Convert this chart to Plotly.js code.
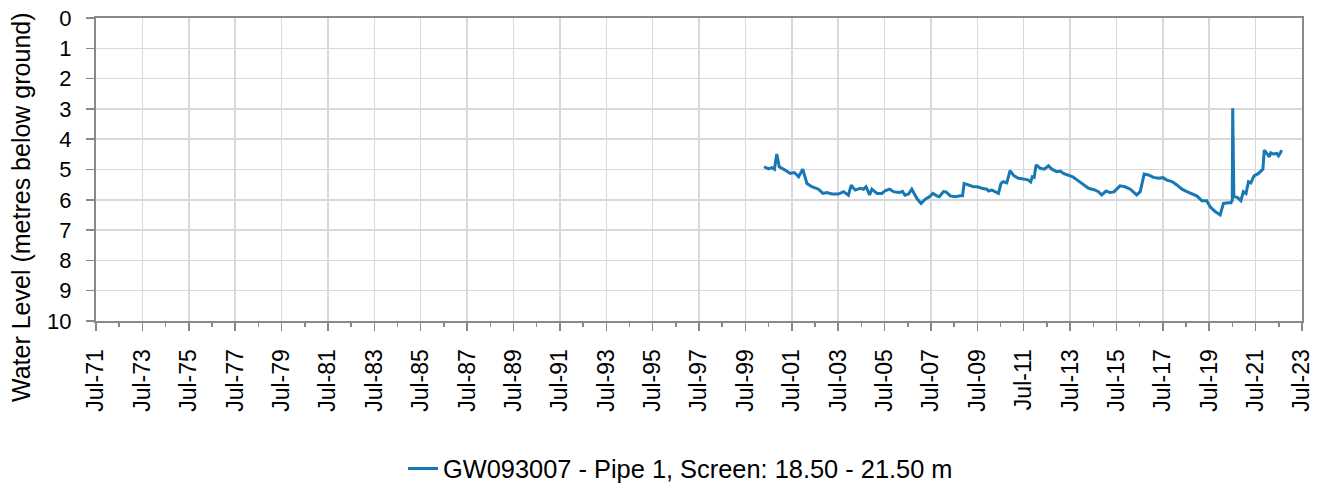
<!DOCTYPE html>
<html>
<head>
<meta charset="utf-8">
<script src="https://cdn.plot.ly/plotly-3.0.1.min.js"></script>
<style>
html,body{margin:0;padding:0;background:#fff;}
#chart{width:1324px;height:488px;}
</style>
</head>
<body>
<div id="chart"></div>
<script>
const seriesName = "GW093007 - Pipe 1, Screen: 18.50 - 21.50 m";
const dates = [
"2000-04-20","2000-06-28","2000-08-22","2000-10-01","2000-11-06","2000-12-16",
"2001-03-17","2001-06-06","2001-08-11","2001-10-16","2001-12-20",
"2002-02-24","2002-05-12","2002-08-25","2002-11-03",
"2003-01-05","2003-03-26","2003-07-05","2003-09-24","2003-12-09",
"2004-01-23","2004-03-25","2004-06-14","2004-08-04","2004-09-13","2004-11-07","2004-12-13",
"2005-03-04","2005-05-20","2005-07-10","2005-09-17","2005-11-29",
"2006-02-21","2006-04-09","2006-05-19","2006-07-13","2006-09-02","2006-11-21",
"2007-01-26","2007-04-02","2007-06-07","2007-07-31","2007-10-01","2007-11-10",
"2008-01-15","2008-02-24","2008-05-01","2008-07-16","2008-10-05","2008-11-10","2008-12-05",
"2009-02-14","2009-05-01","2009-07-02","2009-09-09","2009-11-28","2009-12-24",
"2010-02-14","2010-04-09","2010-05-30","2010-07-09","2010-08-14","2010-10-08","2010-11-28",
"2011-01-30","2011-04-09","2011-06-28","2011-09-13","2011-10-19","2011-11-14","2011-12-13",
"2012-01-12","2012-03-17","2012-05-22","2012-07-24","2012-09-17","2012-12-02",
"2013-01-26","2013-03-18","2013-06-06","2013-08-11","2013-10-23",
"2014-01-19","2014-04-17","2014-07-31","2014-09-20","2014-11-10",
"2015-01-19","2015-03-21","2015-05-22","2015-08-25","2015-11-14",
"2016-02-03","2016-03-25","2016-05-15","2016-07-09","2016-09-09","2016-11-17",
"2017-02-03","2017-04-24","2017-07-02","2017-09-02","2017-11-22",
"2018-02-06","2018-04-28","2018-07-13","2018-10-01","2018-12-16",
"2019-03-07","2019-05-23","2019-07-16","2019-10-01","2019-12-20",
"2020-02-10","2020-05-01","2020-06-07","2020-06-28","2020-07-05","2020-07-23","2020-09-16","2020-11-10","2020-12-20",
"2021-01-30","2021-03-10","2021-04-16","2021-06-06","2021-08-15","2021-10-23","2021-11-14","2021-12-24",
"2022-02-03","2022-02-24","2022-04-05","2022-05-30","2022-06-25","2022-07-20","2022-08-15"
];
const levels = [
4.91,4.98,4.94,4.99,4.49,4.91,
5.02,5.13,5.10,5.24,4.99,
5.46,5.57,5.65,5.79,
5.76,5.81,5.81,5.73,5.85,
5.52,5.68,5.62,5.65,5.57,5.84,5.65,
5.79,5.79,5.70,5.65,5.74,
5.76,5.72,5.85,5.81,5.65,5.95,
6.12,5.98,5.90,5.79,5.87,5.90,
5.73,5.74,5.87,5.90,5.87,5.87,5.46,
5.51,5.57,5.57,5.62,5.65,5.71,
5.68,5.75,5.79,5.46,5.40,5.44,5.04,
5.21,5.29,5.31,5.35,5.41,5.24,5.26,
4.85,4.96,4.99,4.88,4.99,5.07,
5.05,5.13,5.18,5.24,5.35,
5.48,5.62,5.68,5.73,5.84,
5.71,5.76,5.74,5.54,5.57,
5.65,5.76,5.84,5.73,5.15,5.18,
5.26,5.29,5.27,5.35,5.40,
5.51,5.65,5.73,5.79,5.87,
6.03,6.03,6.23,6.39,6.50,
6.12,6.10,6.10,6.01,2.98,5.90,5.92,6.03,5.73,
5.79,5.40,5.44,5.21,5.13,4.99,4.36,4.47,
4.58,4.45,4.49,4.47,4.55,4.47,4.36
];
const tickDates = ["1971-07-01","1973-07-01","1975-07-01","1977-07-01","1979-07-01","1981-07-01","1983-07-01","1985-07-01","1987-07-01","1989-07-01","1991-07-01","1993-07-01","1995-07-01","1997-07-01","1999-07-01","2001-07-01","2003-07-01","2005-07-01","2007-07-01","2009-07-01","2011-07-01","2013-07-01","2015-07-01","2017-07-01","2019-07-01","2021-07-01","2023-07-01"];
const tickLabels = ["Jul-71","Jul-73","Jul-75","Jul-77","Jul-79","Jul-81","Jul-83","Jul-85","Jul-87","Jul-89","Jul-91","Jul-93","Jul-95","Jul-97","Jul-99","Jul-01","Jul-03","Jul-05","Jul-07","Jul-09","Jul-11","Jul-13","Jul-15","Jul-17","Jul-19","Jul-21","Jul-23"];
const yTitle = "Water Level (metres below ground)";

const fam = "Liberation Sans, Arial, sans-serif";
const xFont = {family: fam, size: 23, color: "#000"};
const yFont = {family: fam, size: 22, color: "#000"};
const titleFont = {family: fam, size: 25, color: "#000"};
const legendFont = {family: fam, size: 25.4, color: "#000"};

const trace = {
  x: dates, y: levels, type: "scatter", mode: "lines", name: seriesName,
  line: {color: "#1878B4", width: 3}
};
const layout = {
  width: 1324, height: 488,
  margin: {l: 96, r: 22, t: 18, b: 167},
  paper_bgcolor: "#fff", plot_bgcolor: "#fff",
  font: yFont,
  showlegend: true,
  legend: {orientation: "h", xref: "container", x: 403/1324, xanchor: "left",
           yref: "container", y: 19/488, yanchor: "middle", font: legendFont,
           itemwidth: 30, bgcolor: "rgba(0,0,0,0)"},
  xaxis: {
    type: "date", range: ["1971-07-01", "2023-07-01"],
    tickmode: "array", tickvals: tickDates, ticktext: tickLabels, tickangle: -90,
    ticks: "outside", ticklen: 8, tickwidth: 1.5, tickcolor: "#898989",
    showline: true, linecolor: "#898989", linewidth: 2, mirror: true,
    showgrid: true, gridcolor: "#d9d9d9", gridwidth: 1.5, zeroline: false,
    tickfont: xFont, ticklabelstandoff: 9,
    minor: {dtick: "M12", tick0: "1971-07-01", ticks: "outside", ticklen: 4, tickwidth: 1.5, tickcolor: "#898989", showgrid: false}
  },
  yaxis: {
    range: [10, 0], dtick: 1, tick0: 0,
    ticks: "outside", ticklen: 8, tickwidth: 1.5, tickcolor: "#898989",
    showline: true, linecolor: "#898989", linewidth: 2, mirror: true,
    showgrid: true, gridcolor: "#d9d9d9", gridwidth: 1.5, zeroline: false,
    tickfont: yFont, ticklabelstandoff: 10
  },
  annotations: [{
    text: yTitle, textangle: -90, font: titleFont, showarrow: false,
    xref: "paper", yref: "paper", x: (21 - 96) / 1206, y: (321 - 207) / 303,
    xanchor: "center", yanchor: "middle"
  }]
};
Plotly.newPlot("chart", [trace], layout, {displayModeBar: false, staticPlot: true});
</script>
</body>
</html>
